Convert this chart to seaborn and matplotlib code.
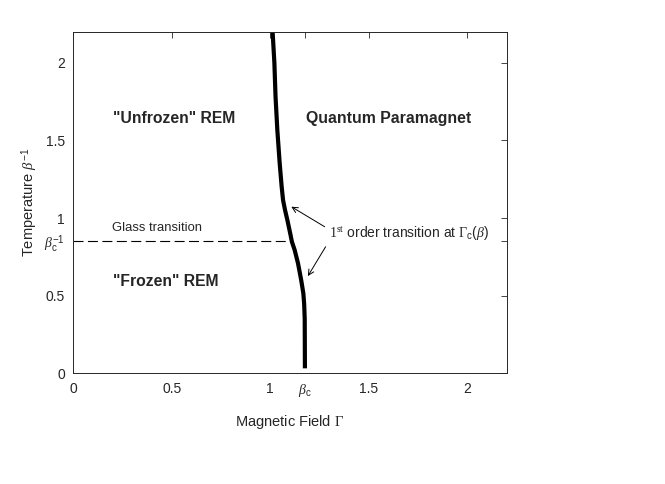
import numpy as np
import pandas as pd
import matplotlib
matplotlib.use("Agg")
import matplotlib.pyplot as plt
import seaborn as sns

sns.set_style("white")
plt.rcParams["font.family"] = ["Liberation Sans", "DejaVu Sans"]
# sans text with serif italic greek, like the MATLAB tex interpreter
plt.rcParams["mathtext.fontset"] = "custom"
plt.rcParams["mathtext.rm"] = "Liberation Sans"
plt.rcParams["mathtext.sf"] = "Liberation Sans"
plt.rcParams["mathtext.it"] = "Liberation Serif:italic"
plt.rcParams["mathtext.bf"] = "Liberation Serif"

# critical values
beta_c = 1.1774
beta_c_inv = 0.849

# first order transition line Gamma_c(T)
curve_T = [2.2, 2.0, 1.78, 1.567, 1.352, 1.202, 1.116, 1.052, 0.987, 0.891, 0.847,
           0.794, 0.708, 0.601, 0.515, 0.45, 0.35, 0.032]
curve_G = [1.012, 1.021, 1.027, 1.036, 1.048, 1.058, 1.065, 1.075, 1.087, 1.103, 1.110,
           1.124, 1.141, 1.157, 1.168, 1.172, 1.175, 1.176]

# glass transition (dashed) line
glass_G = [0.0, 1.11]
glass_T = [beta_c_inv, beta_c_inv]

x_ticks = [0, 0.5, 1, beta_c, 1.5, 2]
x_labels = ["0", "0.5", "1", r"$\beta_{\mathrm{c}}$", "1.5", "2"]
y_ticks = [0, 0.5, beta_c_inv, 1, 1.5, 2]
y_labels = ["0", "0.5", r"$\beta_{\mathrm{c}}^{-1}$", "1", "1.5", "2"]

df = pd.DataFrame({"Gamma": curve_G, "T": curve_T})

fig = plt.figure(figsize=(6.65, 4.84), dpi=100)
ax = fig.add_axes([0.110, 0.2287, 0.652, 0.7058])

sns.lineplot(data=df, x="Gamma", y="T", sort=False, color="black", linewidth=3,
             solid_capstyle="butt", ax=ax)
ax.plot(glass_G, glass_T, color="black", linestyle=(0, (9, 4)), linewidth=0.8)

ax.set_xlim(0, 2.2)
ax.set_ylim(0, 2.2)
ax.set_xticks(x_ticks)
ax.set_xticklabels(x_labels)
ax.set_yticks(y_ticks)
ax.set_yticklabels(y_labels)
ax.tick_params(direction="in", length=4, width=0.6, labelsize=10, colors="#262626",
               top=True, right=True, pad=6)
for s in ax.spines.values():
    s.set_linewidth(0.7)
    s.set_color("#262626")

ax.set_xlabel(r"Magnetic Field $\mathbf{\Gamma}$", fontsize=10.5, color="#262626", labelpad=10)
ax.set_ylabel(r"Temperature $\beta^{-1}$", fontsize=10.5, color="#262626", labelpad=3)

# region labels
ax.text(0.2, 1.638, '"Unfrozen" REM', fontsize=11.3, fontweight="bold", va="center")
ax.text(1.183, 1.638, "Quantum Paramagnet", fontsize=11.4, fontweight="bold", va="center")
ax.text(0.2, 0.59, '"Frozen" REM', fontsize=11.3, fontweight="bold", va="center")
ax.text(0.197, 0.938, "Glass transition", fontsize=9.4, va="center")

# annotation with two arrows
ax.text(1.298, 0.90, r"$\mathbf{1}^{\mathbf{st}}$ order transition at $\mathbf{\Gamma}_{\mathrm{c}}(\beta)$",
        fontsize=10, va="center")
arrow = dict(arrowstyle="->", lw=0.7, color="black", shrinkA=0, shrinkB=0)
ax.annotate("", xy=(1.107, 1.073), xytext=(1.276, 0.944), arrowprops=arrow)
ax.annotate("", xy=(1.191, 0.626), xytext=(1.281, 0.815), arrowprops=arrow)

fig.savefig("out.png", dpi=100)
